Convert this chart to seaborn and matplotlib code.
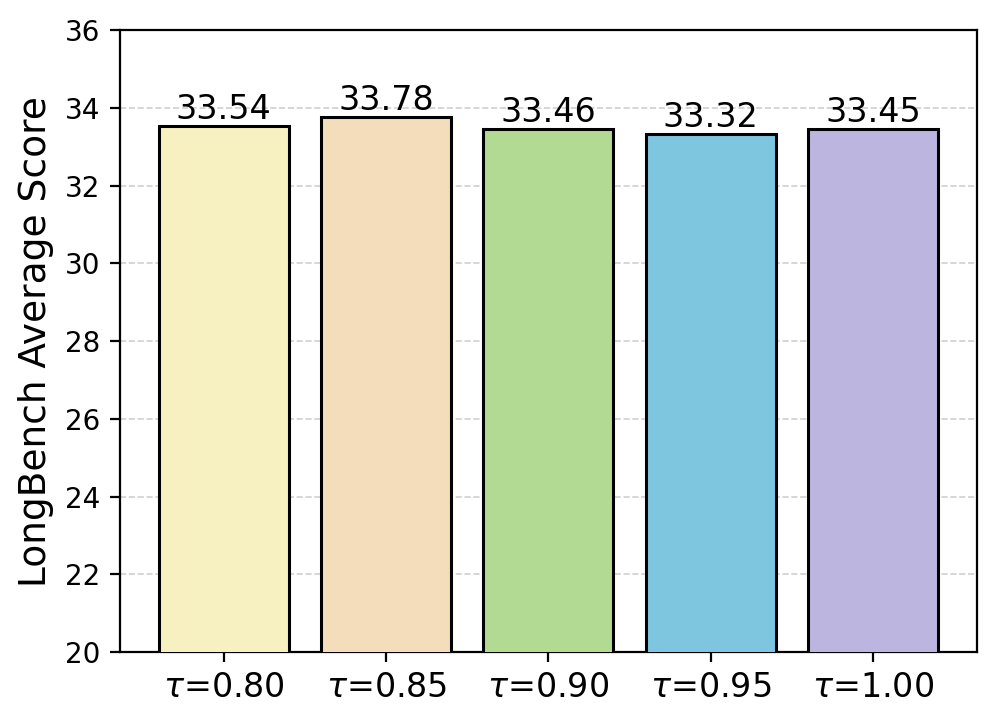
import pandas as pd
import matplotlib
matplotlib.use("Agg")
import matplotlib.pyplot as plt
import seaborn as sns

# values
thresholds = ["0.80", "0.85", "0.90", "0.95", "1.00"]
scores = [33.54, 33.78, 33.46, 33.32, 33.45]
bar_colors = ["#F7F1C2", "#F4DDBB", "#B2DA93", "#7EC6DF", "#BCB5E0"]
y_ticks = [20, 22, 24, 26, 28, 30, 32, 34, 36]

labels = [r"$\tau$=" + t for t in thresholds]
df = pd.DataFrame({"tau": labels, "score": scores})


def main():
    fig, ax = plt.subplots(figsize=(4.985, 3.61), dpi=200)
    sns.barplot(data=df, x="tau", y="score", hue="tau", palette=bar_colors,
                legend=False, edgecolor="black", linewidth=1.1, width=0.8,
                saturation=1, ax=ax, zorder=3)

    for container in ax.containers:
        ax.bar_label(container, fmt="%.2f", fontsize=12, padding=0)

    ax.set_xlim(-0.64, len(labels) - 1 + 0.64)
    ax.set_ylim(20, 36)
    ax.set_yticks(y_ticks)
    ax.tick_params(axis="y", labelsize=10)
    ax.tick_params(axis="x", labelsize=12)
    ax.set_xlabel("")
    ax.set_ylabel("LongBench Average Score", fontsize=13.5)
    ax.yaxis.grid(True, linestyle="--", color="#d0d0d0", linewidth=0.6, zorder=0)
    ax.set_axisbelow(True)

    plt.subplots_adjust(left=0.12, right=0.98, top=0.958, bottom=0.097)
    plt.savefig("out.png", dpi=200)


if __name__ == "__main__":
    main()
